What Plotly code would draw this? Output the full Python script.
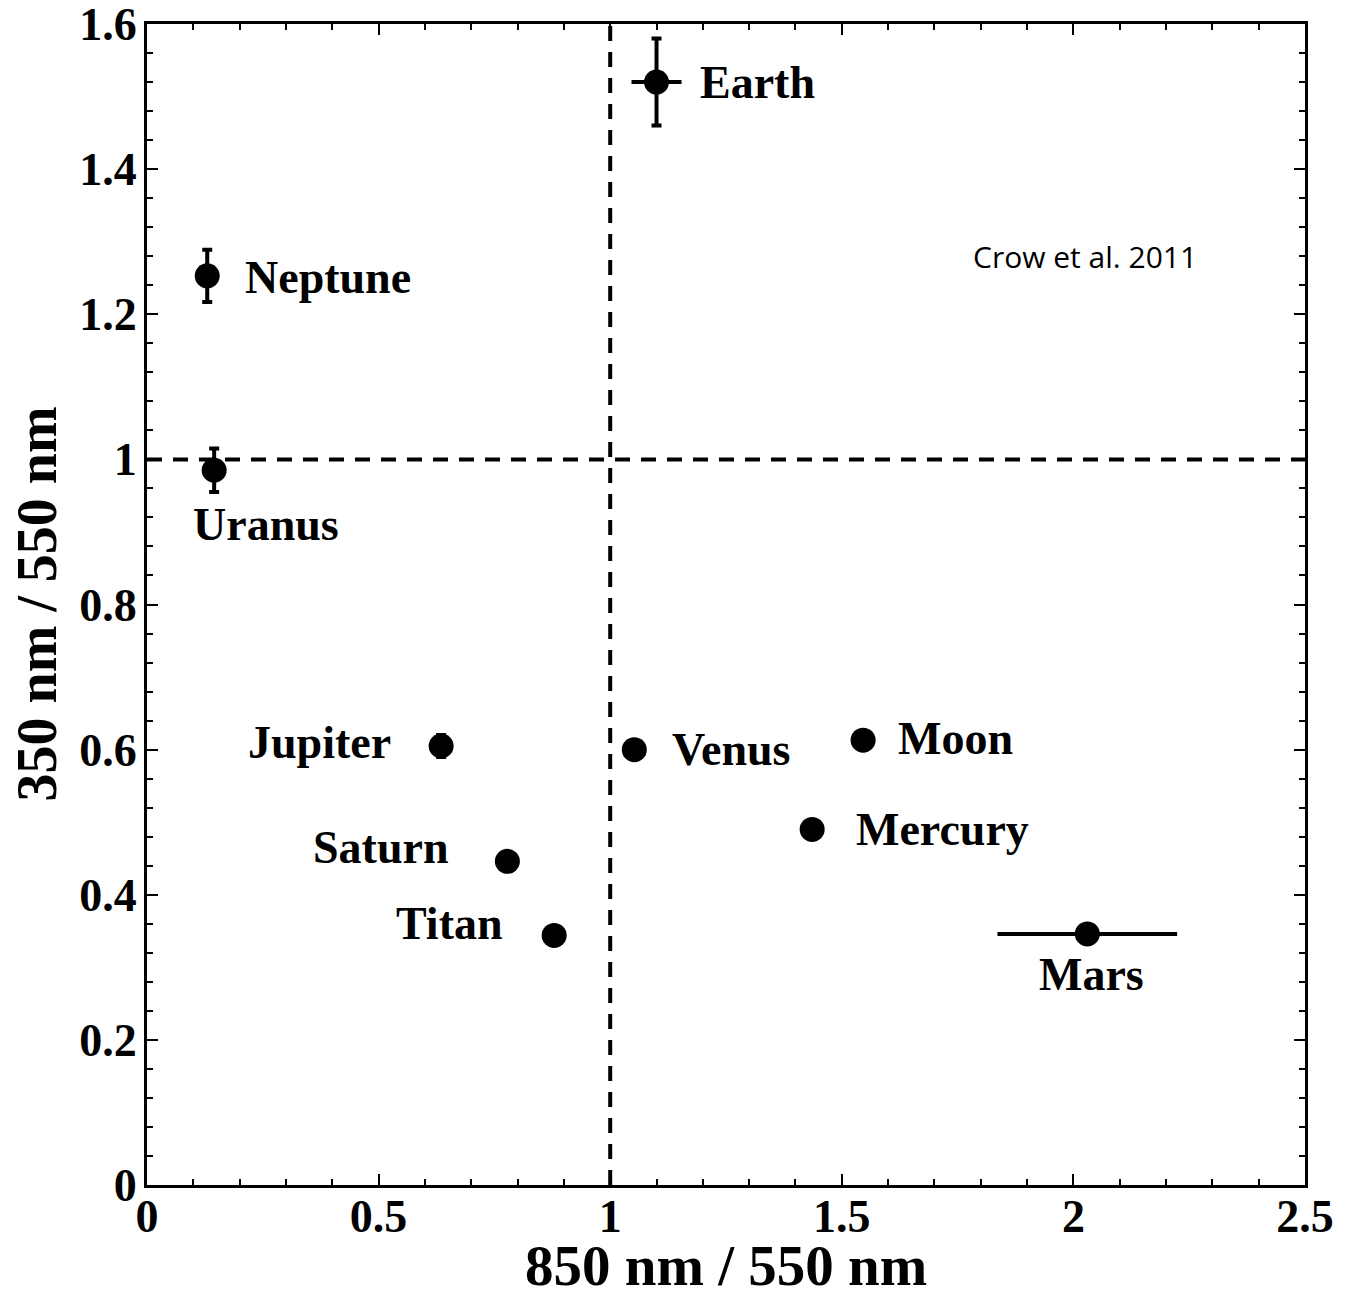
import plotly.graph_objects as go

# planet colour ratios (Crow et al. 2011)
names = ['Earth', 'Neptune', 'Uranus', 'Jupiter', 'Saturn', 'Titan', 'Venus', 'Moon', 'Mercury', 'Mars']
x_ratio = [1.10, 0.13, 0.145, 0.635, 0.778, 0.879, 1.052, 1.546, 1.436, 2.03]
y_ratio = [1.52, 1.253, 0.985, 0.605, 0.446, 0.344, 0.60, 0.613, 0.49, 0.346]
x_err = [0.054, 0.0, 0.0, 0.0, 0.02, 0.0, 0.0, 0.0, 0.0, 0.194]
y_err = [0.06, 0.036, 0.03, 0.015, 0.0, 0.0, 0.0, 0.0, 0.0, 0.0]

# label anchor points
lab_x = [1.19, 0.207, 0.257, 0.53, 0.654, 0.773, 1.13, 1.616, 1.527, 2.04]
lab_y = [1.52, 1.25, 0.91, 0.61, 0.465, 0.36, 0.60, 0.615, 0.49, 0.29]
lab_anchor = ['left', 'left', 'center', 'right', 'right', 'right', 'left', 'left', 'left', 'center']

x_ticks = [0, 0.5, 1, 1.5, 2, 2.5]
x_ticktext = ['0', '0.5', '1', '1.5', '2', '2.5']
y_ticks = [0, 0.2, 0.4, 0.6, 0.8, 1, 1.2, 1.4, 1.6]
y_ticktext = ['0', '0.2', '0.4', '0.6', '0.8', '1', '1.2', '1.4', '1.6']

serif = 'Liberation Serif, Times New Roman, serif'

fig = go.Figure()

# reference lines at ratio = 1
fig.add_trace(go.Scatter(x=[1, 1], y=[0, 1.6], mode='lines',
                         line=dict(color='black', width=4, dash='15px,11px'), hoverinfo='skip'))
fig.add_trace(go.Scatter(x=[0, 2.5], y=[1, 1], mode='lines',
                         line=dict(color='black', width=4, dash='15px,11px'), hoverinfo='skip'))

fig.add_trace(go.Scatter(
    x=x_ratio, y=y_ratio, mode='markers', text=names,
    marker=dict(color='black', size=25),
    error_x=dict(type='data', array=x_err, color='black', thickness=4, width=0),
    error_y=dict(type='data', array=y_err, color='black', thickness=4, width=5),
))

for n, lx, ly, a in zip(names, lab_x, lab_y, lab_anchor):
    fig.add_annotation(x=lx, y=ly, text='<b>%s</b>' % n, showarrow=False, xanchor=a,
                       yanchor='middle', font=dict(family=serif, size=46, color='black'))

fig.add_annotation(x=2.025, y=1.28, text='Crow et al. 2011', showarrow=False,
                   font=dict(family='Open Sans, sans-serif', size=30, color='black'))

# axis titles
fig.add_annotation(xref='paper', yref='paper', x=0.5, y=0, yshift=-80, yanchor='middle',
                   text='<b>850 nm / 550 nm</b>', showarrow=False,
                   font=dict(family=serif, size=57, color='black'))
fig.add_annotation(xref='paper', yref='paper', x=0, y=0.5, xshift=-111, xanchor='center',
                   text='<b>350 nm / 550 nm</b>', showarrow=False, textangle=-90,
                   font=dict(family=serif, size=56, color='black'))

axis_common = dict(showline=True, linecolor='black', linewidth=3, mirror='allticks',
                   ticks='inside', ticklen=11, tickwidth=2, tickcolor='black',
                   showgrid=False, zeroline=False, automargin=False,
                   ticklabeloverflow='allow',
                   tickfont=dict(family=serif, size=46, color='black'))

fig.update_xaxes(range=[0, 2.5], tickvals=x_ticks,
                 ticktext=['<b>%s</b>' % t for t in x_ticktext],
                 minor=dict(dtick=0.1, ticks='inside', ticklen=6, tickwidth=2, tickcolor='black'),
                 ticklabelstandoff=-11,
                 **axis_common)
fig.update_yaxes(range=[0, 1.6], tickvals=y_ticks,
                 ticktext=['<b>%s</b>' % t for t in y_ticktext],
                 minor=dict(dtick=0.04, ticks='inside', ticklen=6, tickwidth=2, tickcolor='black'),
                 ticklabelstandoff=-2,
                 **axis_common)

# page body has an 8px margin, so shift the plot area back
fig.update_layout(width=1357, height=1291, showlegend=False,
                  plot_bgcolor='white', paper_bgcolor='white',
                  margin=dict(l=139, r=60, t=16, b=114, autoexpand=False))

fig.write_html('out.html')
